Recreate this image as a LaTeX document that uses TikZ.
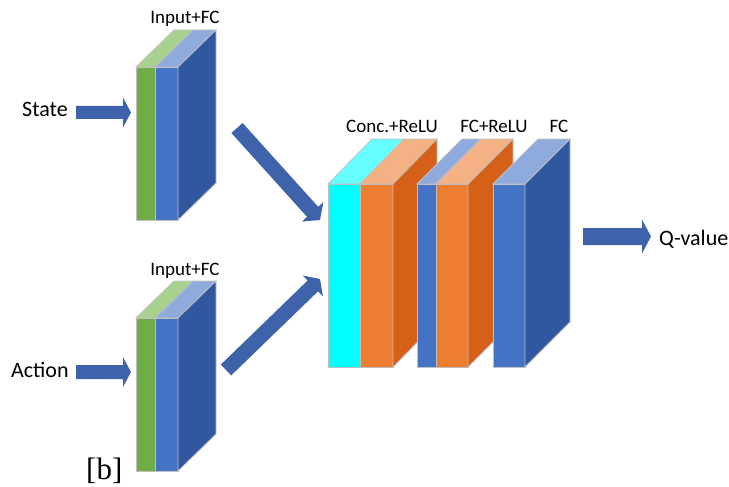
\documentclass[tikz,border=0pt]{standalone}
\usepackage{fontspec}
\newfontfamily\labelfont{Carlito}
\newfontfamily\tagfont{Liberation Serif}
\usetikzlibrary{calc}

\definecolor{grnfront}{HTML}{70AD47}
\definecolor{grntop}{HTML}{A9D18E}
\definecolor{blufront}{HTML}{4472C4}
\definecolor{blutop}{HTML}{8FAADC}
\definecolor{bluside}{HTML}{3157A0}
\definecolor{cyafront}{HTML}{00FFFF}
\definecolor{cyatop}{HTML}{66FFFF}
\definecolor{orafront}{HTML}{ED7D31}
\definecolor{oratop}{HTML}{F4B183}
\definecolor{oraside}{HTML}{D66018}
\definecolor{arrblue}{HTML}{3E63AA}
\definecolor{edgegray}{HTML}{C0C0C0}

% one slice of a layer block: top face and front face
\newcommand\slice[8]{% x0, x1, ytop, ybot, dx, dy, front colour, top colour
  \filldraw[facebox,fill=#8] (#1,#3) -- (#2,#3) -- (#2+#5,#3-#6) -- (#1+#5,#3-#6) -- cycle;
  \filldraw[facebox,fill=#7] (#1,#3) rectangle (#2,#4);
}
% right-hand side face of a block
\newcommand\sidewall[6]{% x, ytop, ybot, dx, dy, colour
  \filldraw[facebox,fill=#6] (#1,#2) -- (#1+#4,#2-#5) -- (#1+#4,#3-#5) -- (#1,#3) -- cycle;
}
% thick block arrow from tail to tip
\newcommand\blockarrow[5]{% tail, tip, shaft half width, head half width, head length
  \coordinate (hb) at ($(#2)!#5!(#1)$);
  \fill[arrblue] ($(#1)!#3!90:(#2)$) -- ($(hb)!#3!90:(#2)$) -- ($(hb)!#4!90:(#2)$)
    -- (#2) -- ($(hb)!#4!-90:(#2)$) -- ($(hb)!#3!-90:(#2)$) -- ($(#1)!#3!-90:(#2)$) -- cycle;
}

\begin{document}
\begin{tikzpicture}[x=1pt,y=-1pt,
  facebox/.style={draw=edgegray,line width=0.8pt,line join=miter},
  lbl/.style={font=\labelfont\fontsize{19}{19}\selectfont,inner sep=0pt,anchor=base},
  iolbl/.style={font=\labelfont\fontsize{22}{22}\selectfont,inner sep=0pt,anchor=base west}]
\useasboundingbox (0,0) rectangle (729,487);

% state input block
\slice{136}{155}{67}{220}{38}{37}{grnfront}{grntop}
\slice{155}{178}{67}{220}{38}{37}{blufront}{blutop}
\sidewall{178}{67}{220}{38}{37}{bluside}
\node[lbl] (lblS) at (185,24) {Input+FC};

% action input block
\slice{136}{155}{318}{471}{38}{37}{grnfront}{grntop}
\slice{155}{178}{318}{471}{38}{37}{blufront}{blutop}
\sidewall{178}{318}{471}{38}{37}{bluside}
\node[lbl] (lblA) at (185,275) {Input+FC};

% concatenation block
\slice{328}{360}{184}{367}{44}{45}{cyafront}{cyatop}
\slice{360}{393}{184}{367}{44}{45}{orafront}{oratop}
\sidewall{393}{184}{367}{44}{45}{oraside}
\node[lbl] (lblC) at (392,132) {Conc.+ReLU};

% hidden block
\slice{417}{436}{184}{367}{45}{45}{blufront}{blutop}
\slice{436}{468}{184}{367}{45}{45}{orafront}{oratop}
\sidewall{468}{184}{367}{45}{45}{oraside}
\node[lbl] (lblR) at (494,132) {FC+ReLU};

% output block
\slice{493}{525}{184}{367}{45}{45}{blufront}{blutop}
\sidewall{525}{184}{367}{45}{45}{bluside}
\node[lbl] (lblF) at (559,132) {FC};

% inputs and output
\node[iolbl] (state) at (22,117) {State};
\node[iolbl] (action) at (11,377) {Action};
\node[iolbl] (qval) at (659,245) {Q-value};
\node[inner sep=0pt,anchor=base west,font=\tagfont\fontsize{31}{31}\selectfont] (tag) at (86,479) {[b]};

% arrow end points
\coordinate (sT) at (76,112.5);  \coordinate (sH) at (131,112.5);
\coordinate (aT) at (76,372);    \coordinate (aH) at (131,372);
\coordinate (d1T) at (237,128);  \coordinate (d1H) at (320,220);
\coordinate (d2T) at (226,370);  \coordinate (d2H) at (320,279);
\coordinate (qT) at (583,236.5); \coordinate (qH) at (651,236.5);

\blockarrow{sT}{sH}{6.5pt}{15pt}{8pt}
\blockarrow{aT}{aH}{7pt}{15pt}{8pt}
\blockarrow{d1T}{d1H}{7.5pt}{14.5pt}{11pt}
\blockarrow{d2T}{d2H}{7.5pt}{14.5pt}{10pt}
\blockarrow{qT}{qH}{8.5pt}{17pt}{9pt}
\end{tikzpicture}
\end{document}
